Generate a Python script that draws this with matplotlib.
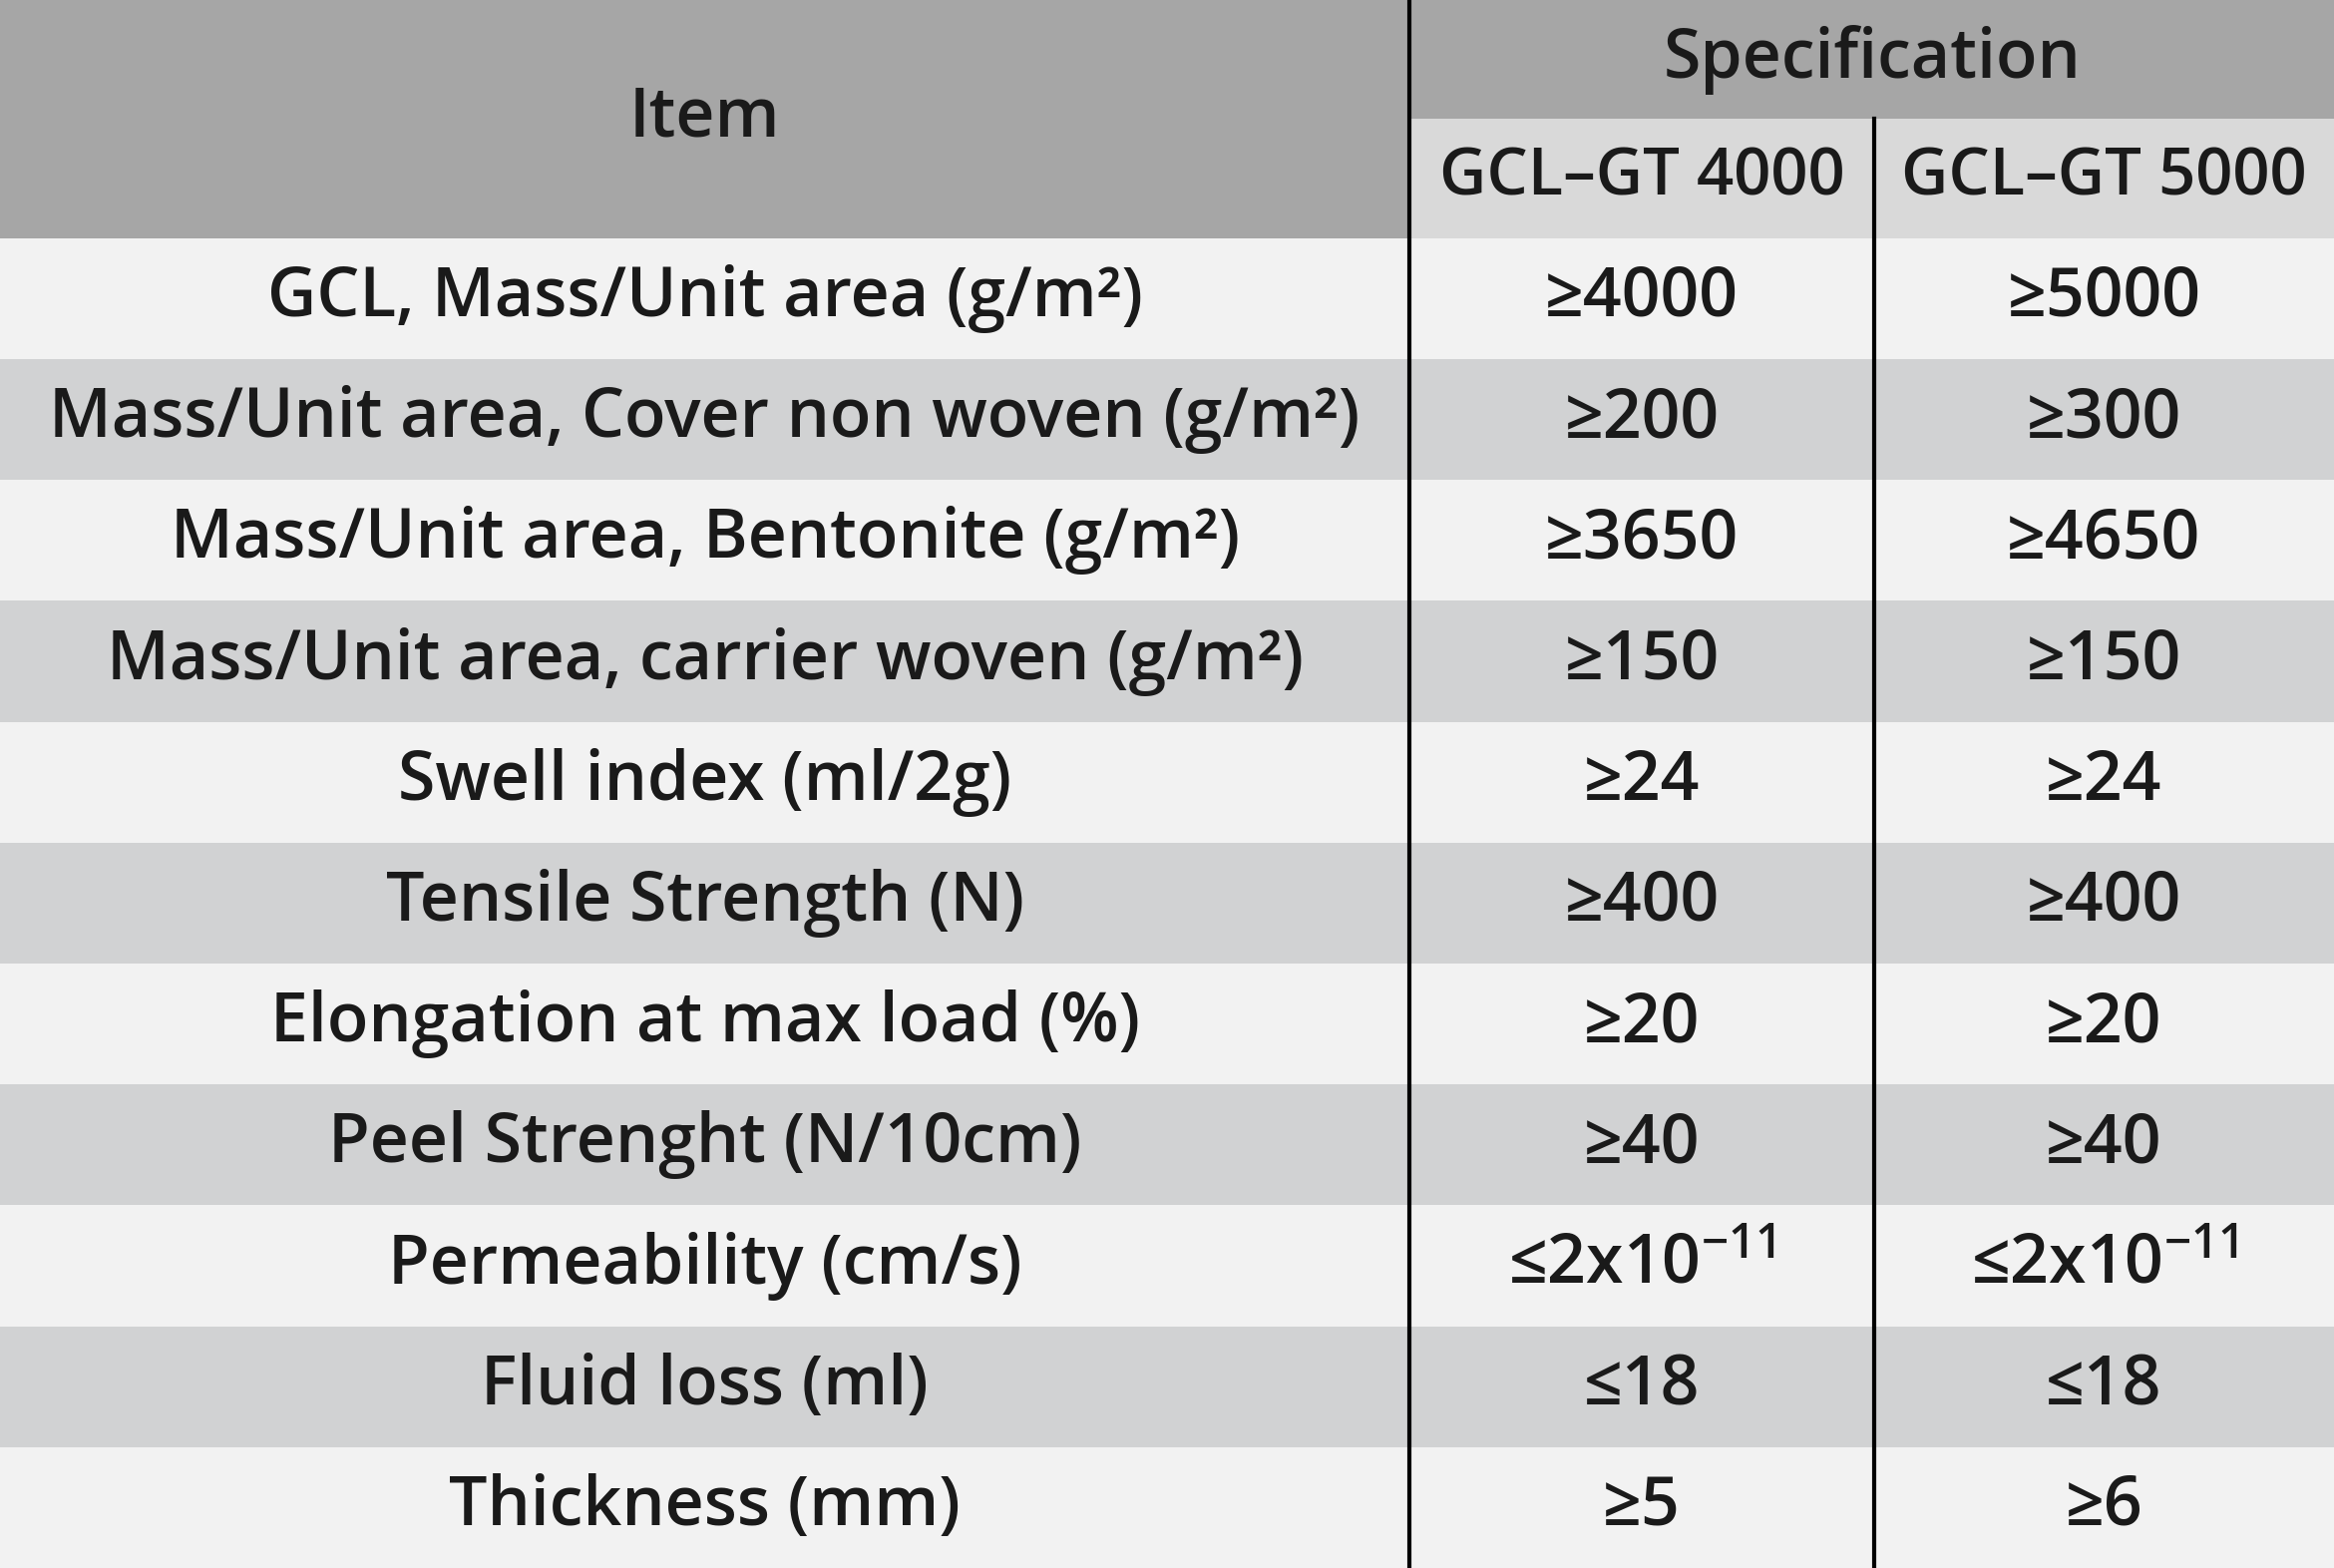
import matplotlib
matplotlib.use("Agg")
import matplotlib.pyplot as plt
from matplotlib.patches import Rectangle

plt.rcParams['mathtext.fontset'] = 'custom'
plt.rcParams['mathtext.rm'] = 'Open Sans:weight=600'
plt.rcParams['font.family'] = ['Open Sans', 'DejaVu Sans']
plt.rcParams['font.weight'] = 600

items = ["GCL, Mass/Unit area (g/m²)", "Mass/Unit area, Cover non woven (g/m²)",
         "Mass/Unit area, Bentonite (g/m²)", "Mass/Unit area, carrier woven (g/m²)",
         "Swell index (ml/2g)", "Tensile Strength (N)", "Elongation at max load (%)",
         "Peel Strenght (N/10cm)", "Permeability (cm/s)", "Fluid loss (ml)", "Thickness (mm)"]
gt4000 = ["≥4000", "≥200", "≥3650", "≥150", "≥24", "≥400", "≥20", "≥40",
          "≤2x10$^{-11}$", "≤18", "≥5"]
gt5000 = ["≥5000", "≥300", "≥4650", "≥150", "≥24", "≥400", "≥20", "≥40",
          "≤2x10$^{-11}$", "≤18", "≥6"]
headers = ["Item", "Specification", "GCL–GT 4000", "GCL–GT 5000"]

W, H = 1568, 1053
x0, x1, x2 = 0, 947, 1259
hdr1, hdr2 = 80, 160
rh = (H - hdr2) / len(items)

fig = plt.figure(figsize=(23.4, 15.72), dpi=100)
ax = fig.add_axes([0, 0, 1, 1])
ax.set_xlim(0, W); ax.set_ylim(H, 0); ax.axis('off')

dark, light_hdr = '#a6a6a6', '#d9d9d9'
rowc = ['#f2f2f2', '#d1d2d3']
tc = '#1a1a1a'
fs = 49

ax.add_patch(Rectangle((0, 0), W, hdr2, color=dark, lw=0))
ax.add_patch(Rectangle((x1, hdr1), W - x1, hdr2 - hdr1, color=light_hdr, lw=0))
ax.text(x1 / 2, hdr2 / 2, headers[0], ha='center', va='center', fontsize=fs, color=tc)
ax.text((x1 + W) / 2, hdr1 / 2, headers[1], ha='center', va='center', fontsize=fs, color=tc)
ax.text((x1 + x2) / 2, (hdr1 + hdr2) / 2, headers[2], ha='center', va='center', fontsize=fs - 2, color=tc)
ax.text((x2 + W) / 2, (hdr1 + hdr2) / 2, headers[3], ha='center', va='center', fontsize=fs - 2, color=tc)

for i, (it, a, b) in enumerate(zip(items, gt4000, gt5000)):
    y = hdr2 + i * rh
    ax.add_patch(Rectangle((0, y), W, rh, color=rowc[i % 2], lw=0))
    yc = y + rh / 2
    ax.text(x1 / 2, yc, it, ha='center', va='center', fontsize=fs, color=tc)
    ax.text((x1 + x2) / 2, yc, a, ha='center', va='center', fontsize=fs, color=tc)
    ax.text((x2 + W) / 2, yc, b, ha='center', va='center', fontsize=fs, color=tc)

ax.plot([x1, x1], [0, H], color='black', lw=3)
ax.plot([x2, x2], [hdr1, H], color='black', lw=3)

fig.savefig("out.png", dpi=100)
